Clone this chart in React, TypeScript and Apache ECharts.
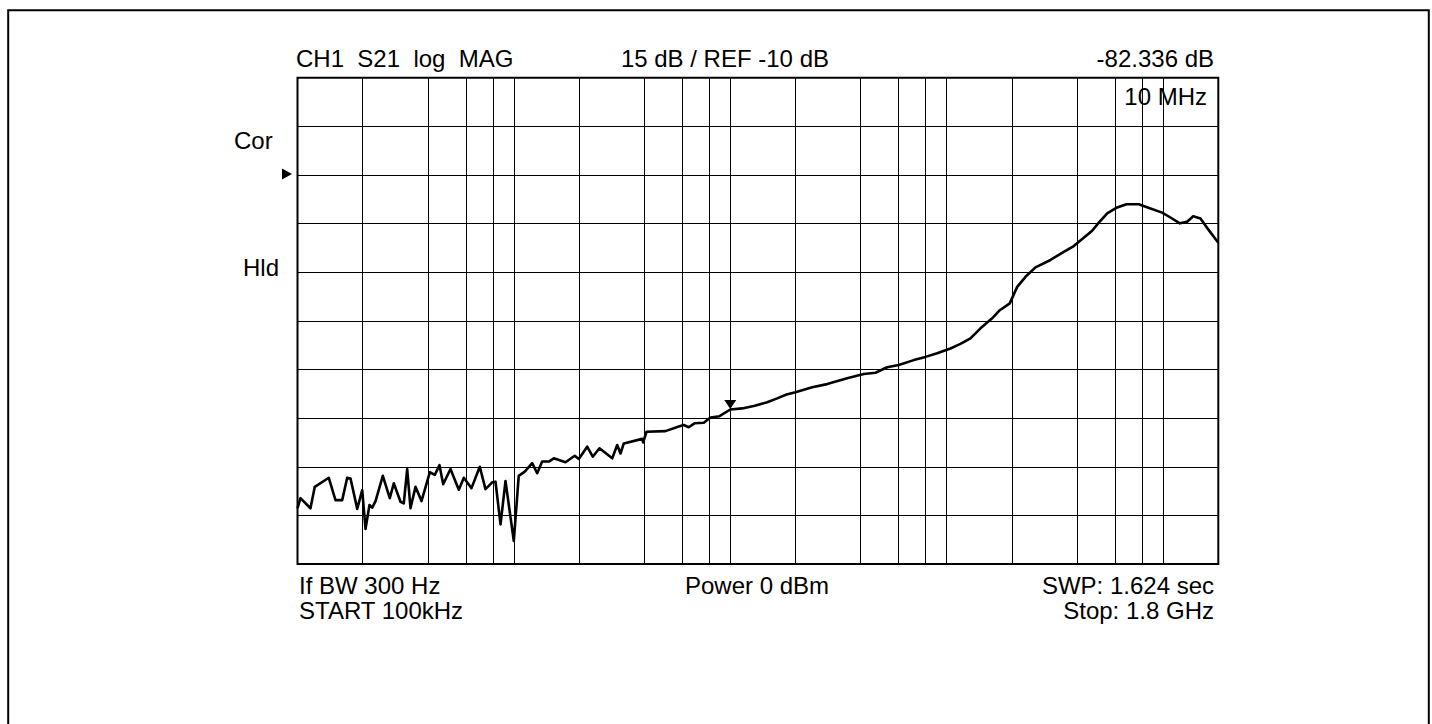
import React, { useEffect, useRef } from "react";
import * as echarts from "echarts";

// Frequency (MHz) of each trace point
const freqMHz = [
  0.1, 0.1032, 0.1148, 0.1202, 0.1395, 0.1498, 0.1609, 0.1697, 0.1758, 0.1888,
  0.1991, 0.2062, 0.2151, 0.2214, 0.2294, 0.2479, 0.267, 0.2786, 0.2992, 0.3099,
  0.3213, 0.3328, 0.351, 0.3741, 0.4087, 0.431, 0.4531, 0.4713, 0.5093, 0.5565,
  0.5869, 0.6369, 0.6956, 0.7392, 0.7937, 0.8222, 0.8674, 0.9146, 0.999, 1.053,
  1.123, 1.215, 1.281, 1.351, 1.45, 1.529, 1.732, 1.911, 1.995, 2.181,
  2.315, 2.486, 2.847, 3.002, 3.109, 3.22, 3.916, 3.958, 4.1, 5.019,
  5.781, 6.097, 6.43, 6.833, 7.543, 8.099, 8.916, 10.0, 11.35, 12.98,
  14.81, 16.47, 18.19, 20.01, 23.9, 28.04, 34.69, 41.39, 46.88, 53.09,
  60.07, 70.47, 79.8, 90.38, 104.1, 115.8, 128.8, 143.3, 162.3, 176.0,
  195.7, 211.8, 231.3, 257.3, 301.8, 347.6, 386.7, 470.2, 504.7, 551.8,
  613.8, 677.6, 772.2, 874.6, 990.4, 1082, 1195, 1292, 1378, 1489, 1627, 1800,
];

// S21 magnitude (dB) of each trace point
const levelDb = [
  -112.8, -109.7, -112.8, -106.2, -103.4, -110.3, -110.3, -103.4, -103.6, -113.0,
  -107.2, -119.2, -111.8, -112.6, -110.6, -102.8, -109.7, -105.1, -110.8, -111.3,
  -100.7, -112.8, -106.2, -110.6, -101.7, -102.5, -99.5, -105.4, -100.7, -107.1,
  -103.4, -106.6, -100.0, -106.9, -104.8, -104.6, -117.8, -104.4, -122.9, -102.8,
  -101.5, -98.9, -102.0, -98.4, -98.4, -97.4, -98.6, -96.6, -97.6, -93.8,
  -96.9, -94.3, -97.4, -93.3, -95.9, -92.8, -91.4, -92.5, -89.2, -89.0,
  -87.6, -87.1, -87.8, -86.6, -86.4, -84.8, -84.4, -82.336, -82.0, -81.2,
  -80.1, -78.9, -77.7, -77.0, -75.5, -74.5, -72.7, -71.4, -71.0, -69.3,
  -68.6, -67.1, -66.1, -65.0, -63.5, -62.1, -60.4, -57.3, -54.2, -51.7,
  -49.6, -44.5, -41.4, -38.5, -36.2, -33.7, -31.9, -27.2, -24.7, -21.8,
  -20.0, -19.0, -19.0, -20.3, -21.6, -23.1, -24.9, -24.4, -22.7, -23.4, -27.0, -30.9,
];

// Graticule
const freqGridMHz = [0.2, 0.4, 0.6, 0.8, 1, 2, 4, 6, 8, 10, 20, 40, 60, 80, 100, 200, 400, 600, 800, 1000];
const dbGrid = [-115, -100, -85, -70, -55, -40, -25, -10, 5];
const dbMin = -130;
const dbMax = 20;
const fStart = 0.1;
const fStop = 1800;

// Marker
const markerFreqMHz = 10;
const markerDb = -82.336;

const FONT = '24px "Liberation Sans", Arial, Helvetica, sans-serif';

function txt(text: string, x: number, y: number, align: string) {
  return {
    type: "text",
    x,
    y,
    silent: true,
    style: { text, font: FONT, fill: "#000", textAlign: align, textVerticalAlign: "middle" },
  };
}

export default function App() {
  const ref = useRef<HTMLDivElement>(null);
  useEffect(() => {
    if (!ref.current) return;
    const chart = echarts.init(ref.current, undefined, { renderer: "svg" });
    const option: any = {
      animation: false,
      backgroundColor: "#fff",
      grid: {
        left: 297.5,
        top: 77.8,
        width: 920.8,
        height: 486.2,
        show: true,
        borderColor: "#000",
        borderWidth: 2,
        backgroundColor: "transparent",
      },
      xAxis: {
        type: "log",
        logBase: 10,
        min: fStart,
        max: fStop,
        axisLine: { show: false },
        axisTick: { show: false },
        axisLabel: { show: false },
        splitLine: { show: false },
      },
      yAxis: {
        type: "value",
        min: dbMin,
        max: dbMax,
        axisLine: { show: false },
        axisTick: { show: false },
        axisLabel: { show: false },
        splitLine: { show: false },
      },
      series: [
        {
          type: "line",
          data: [],
          silent: true,
          markLine: {
            silent: true,
            symbol: ["none", "none"],
            label: { show: false },
            emphasis: { disabled: true },
            lineStyle: { color: "#000", width: 1, type: "solid", opacity: 1 },
            data: [
              ...freqGridMHz.map((f) => ({ xAxis: f })),
              ...dbGrid.map((d) => ({ yAxis: d })),
            ],
          },
        },
        {
          type: "line",
          data: freqMHz.map((f, i) => [f, levelDb[i]]),
          showSymbol: false,
          symbol: "none",
          silent: true,
          lineStyle: { color: "#000", width: 2.6, join: "round" },
          markPoint: {
            silent: true,
            symbol: "triangle",
            symbolRotate: 180,
            symbolSize: [12, 9],
            symbolOffset: [0, -5],
            label: { show: false },
            itemStyle: { color: "#000" },
            data: [{ coord: [markerFreqMHz, markerDb] }],
          },
        },
      ],
      graphic: [
        {
          type: "rect",
          silent: true,
          shape: { x: 8.2, y: 10.2, width: 1420.6, height: 800 },
          style: { fill: "none", stroke: "#000", lineWidth: 2 },
        },
        txt("CH1  S21  log  MAG", 296, 58.3, "left"),
        txt("15 dB / REF -10 dB", 829, 58.3, "right"),
        txt("-82.336 dB", 1214, 58.3, "right"),
        txt("10 MHz", 1207, 96.6, "right"),
        txt("Cor", 234, 140, "left"),
        txt("Hld", 243, 267.6, "left"),
        {
          type: "polygon",
          silent: true,
          shape: { points: [[282, 168.5], [292, 174], [282, 179.5]] },
          style: { fill: "#000" },
        },
        txt("If BW 300 Hz", 299, 585.6, "left"),
        txt("START 100kHz", 299, 610, "left"),
        txt("Power 0 dBm", 829, 585.6, "right"),
        txt("SWP: 1.624 sec", 1214, 585.6, "right"),
        txt("Stop: 1.8 GHz", 1214, 610, "right"),
      ],
    };
    chart.setOption(option);
    return () => chart.dispose();
  }, []);
  return (
    <div
      ref={ref}
      style={{ position: "fixed", left: 0, top: 0, width: 1432, height: 724, background: "#fff" }}
    />
  );
}
